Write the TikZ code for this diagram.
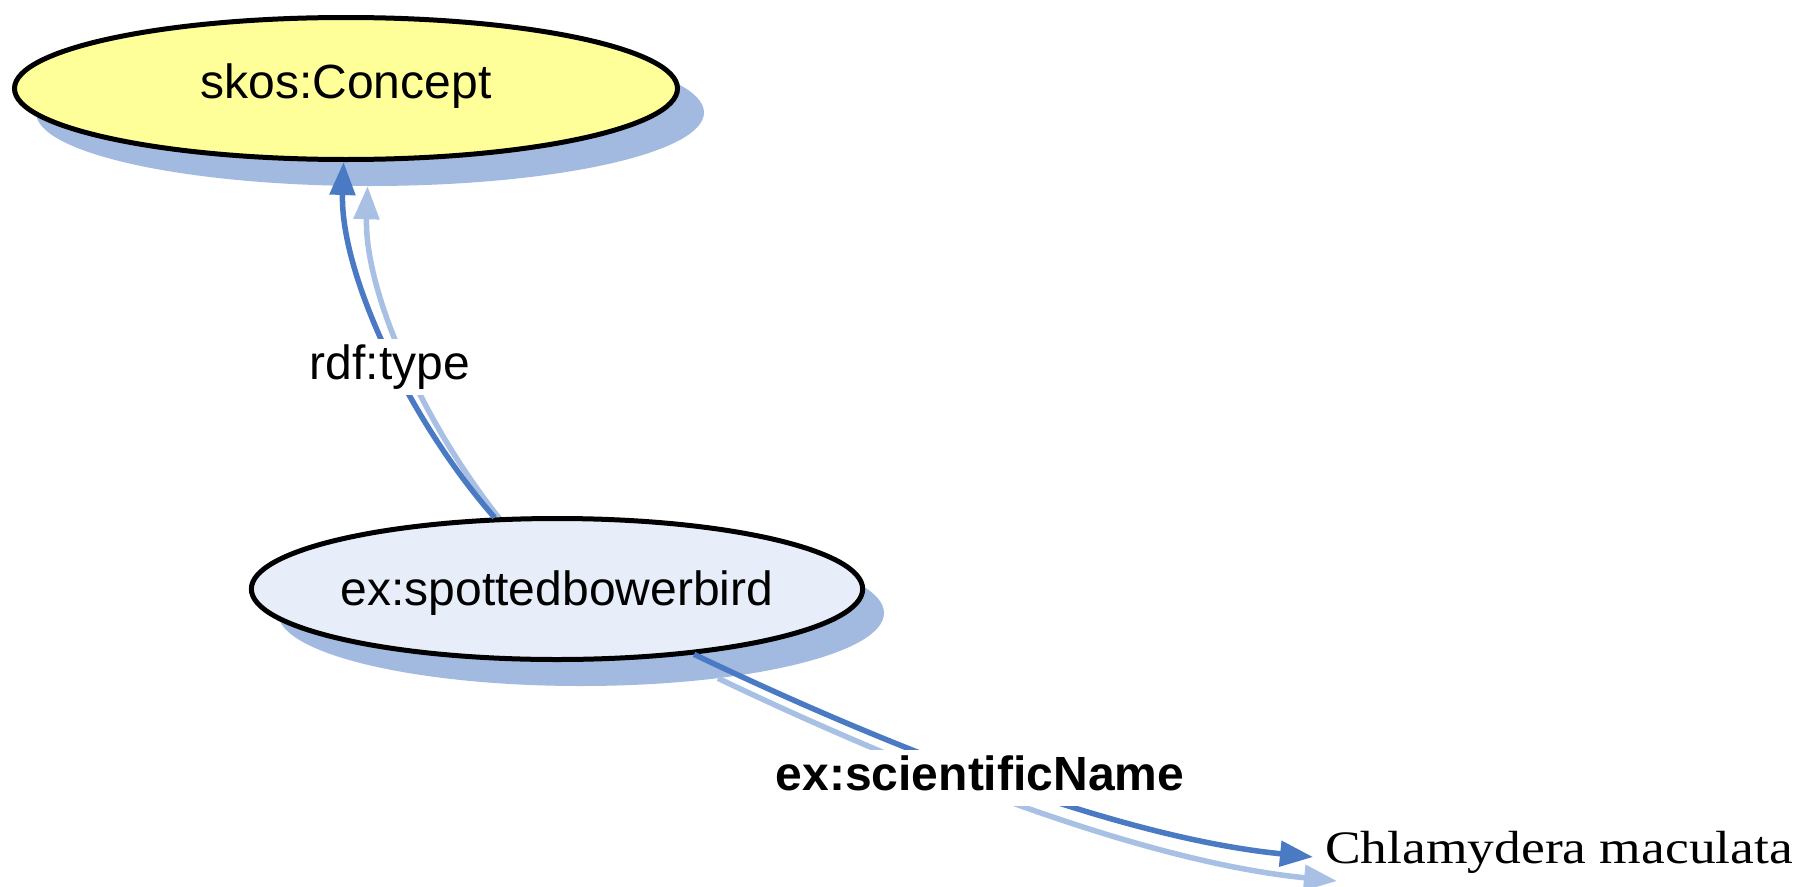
\documentclass[tikz,border=0pt]{standalone}
\usepackage{fontspec}
\newfontfamily\labfont{Liberation Sans}
\newfontfamily\litfont[FakeStretch=1.15]{Liberation Serif}
\usetikzlibrary{shapes.geometric,arrows.meta}
\definecolor{shadowc}{HTML}{A3BAE0}
\definecolor{linedark}{HTML}{4A7AC4}
\definecolor{linelight}{HTML}{A8C0E4}
\definecolor{yellowc}{HTML}{FFFF99}
\definecolor{bluefill}{HTML}{E7EEF9}
\tikzset{
  concept/.style={ellipse, draw=black, line width=5pt, inner sep=0pt,
    font=\labfont\fontsize{48}{58}\selectfont},
  shadowell/.style={ellipse, fill=shadowc, draw=none, inner sep=0pt},
  edgedark/.style={draw=linedark, line width=5.5pt, -{Triangle[length=33pt,width=25pt]}},
  edgelight/.style={draw=linelight, line width=5.5pt, -{Triangle[length=33pt,width=25pt]}},
  edgelabel/.style={fill=white, inner xsep=4pt, inner ysep=4pt,
    font=\labfont\fontsize{48}{58}\selectfont, text height=36pt, text depth=12pt},
  literal/.style={inner xsep=12pt, inner ysep=0pt, anchor=west,
    font=\litfont\fontsize{46.5}{56}\selectfont, text height=30pt, text depth=18pt},
}
\begin{document}
\begin{tikzpicture}[x=1pt,y=-1pt]
\useasboundingbox (0,0) rectangle (1801,886);
\fill[white] (0,0) rectangle (1801,886);

% shadows
\node[shadowell, minimum width=668pt, minimum height=147pt] (sks) at (370,112.5) {};
\node[shadowell, minimum width=606pt, minimum height=146pt] (bbs) at (581,613) {};
\coordinate (litS) at (1337,881);

\draw[edgelight] (bbs) .. controls (429,439) and (364,294) .. (sks);
\draw[edgelight] (bbs) .. controls (904,767) and (1137,861) .. (litS);

% main nodes
\node[concept, fill=yellowc, minimum width=663pt, minimum height=142pt,
      text height=36pt, text depth=17pt] (sk) at (346,88.5) {skos:Concept};
\node[concept, fill=bluefill, minimum width=601pt, minimum height=141pt,
      text height=44pt, text depth=12pt] (bb) at (557,589) {ex:spottedbowerbird};
\node[literal] (lit) at (1313,857) {Chlamydera maculata};

% main edges
\draw[edgedark] (bb) .. controls (405,415) and (340,270) .. (sk);
\draw[edgedark] (bb) .. controls (880,743) and (1113,837) .. (lit.west);

% edge labels
\node[edgelabel] (l1) at (390,367) {rdf:type};
\node[edgelabel] (l2) at (980,778) {\bfseries ex:scientificName};
\end{tikzpicture}
\end{document}
